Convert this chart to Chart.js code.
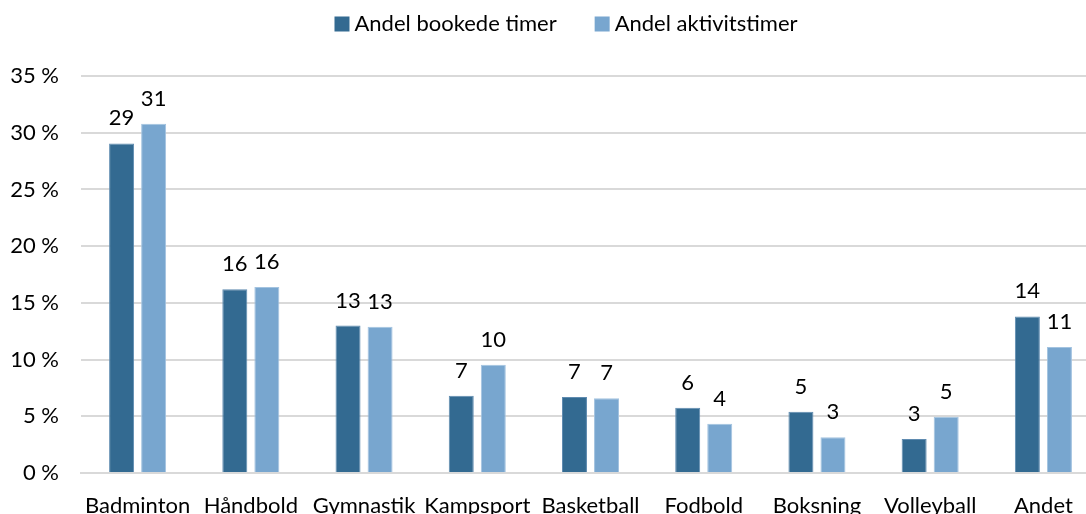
<!DOCTYPE html>
<html>
<head>
<meta charset="utf-8">
<script src="https://cdn.jsdelivr.net/npm/chart.js@4.4.1/dist/chart.umd.min.js"></script>
<style>
    html, body { margin: 0; padding: 0; background: #fff; }
    #wrap { width: 1086px; height: 514px; overflow: hidden; }
</style>
</head>
<body>
<div id="wrap"><canvas id="sportChart" width="1100" height="514"></canvas></div>
<script>
// Fordeling af bookede timer / aktivitetstimer pr. idræt (%)
const categories = ['Badminton', 'Håndbold', 'Gymnastik', 'Kampsport', 'Basketball', 'Fodbold', 'Boksning', 'Volleyball', 'Andet'];
const bookedShare = [29.05, 16.2, 13.0, 6.8, 6.7, 5.75, 5.4, 3.0, 13.8];
const activityShare = [30.8, 16.4, 12.9, 9.55, 6.6, 4.35, 3.15, 4.95, 11.1];
const yTicks = [0, 5, 10, 15, 20, 25, 30, 35];

const FONT = 'Lato';
const FONT_SIZE = 22;

// tal over søjlerne (afrundet)
const valueLabels = {
    id: 'valueLabels',
    afterDatasetsDraw(chart) {
        const ctx = chart.ctx;
        ctx.save();
        ctx.font = `${FONT_SIZE}px ${FONT}`;
        ctx.fillStyle = '#000';
        ctx.textAlign = 'center';
        ctx.textBaseline = 'alphabetic';
        chart.data.datasets.forEach((ds, i) => {
            chart.getDatasetMeta(i).data.forEach((bar, j) => {
                ctx.fillText(Math.round(ds.data[j]), bar.x, bar.y - 18);
            });
        });
        ctx.restore();
    }
};

// forklaring øverst, som i Excel (lille afstand mellem kasse og tekst)
const topLegend = {
    id: 'topLegend',
    afterDraw(chart) {
        const ctx = chart.ctx;
        const box = 15, boxGap = 5, itemGap = 38, centerX = 566, midY = 24;
        ctx.save();
        ctx.font = `${FONT_SIZE}px ${FONT}`;
        const items = chart.data.datasets.map(ds => ({
            text: ds.label,
            color: ds.backgroundColor,
            width: box + boxGap + ctx.measureText(ds.label).width
        }));
        const total = items.reduce((s, it) => s + it.width, 0) + itemGap * (items.length - 1);
        let x = centerX - total / 2;
        ctx.textAlign = 'left';
        ctx.textBaseline = 'middle';
        items.forEach(it => {
            ctx.fillStyle = it.color;
            ctx.fillRect(x, midY - box / 2, box, box);
            ctx.fillStyle = '#000';
            ctx.fillText(it.text, x + box + boxGap, midY);
            x += it.width + itemGap;
        });
        ctx.restore();
    }
};

const ctx = document.getElementById('sportChart');
new Chart(ctx, {
    type: 'bar',
    data: {
        labels: categories,
        datasets: [
            {
                label: 'Andel bookede timer',
                data: bookedShare,
                backgroundColor: '#336a91',
                borderColor: '#5f8bb0',
                borderWidth: 1
            },
            {
                label: 'Andel aktivitstimer',
                data: activityShare,
                backgroundColor: '#78a6cf',
                borderColor: '#a3c3e0',
                borderWidth: 1
            }
        ]
    },
    options: {
        responsive: false,
        animation: false,
        devicePixelRatio: 1,
        layout: {
            padding: { top: 76, left: 0, right: 0, bottom: 0 }
        },
        datasets: {
            bar: {
                categoryPercentage: 0.566,
                barPercentage: 0.78
            }
        },
        scales: {
            x: {
                grid: { display: false, drawTicks: false },
                border: { display: true, color: '#d9d9d9', width: 2 },
                ticks: {
                    color: '#000',
                    padding: 20,
                    maxRotation: 0,
                    autoSkip: false,
                    font: { family: FONT, size: FONT_SIZE }
                },
                afterFit: scale => { scale.height = 41; }
            },
            y: {
                min: 0,
                max: 35,
                afterBuildTicks: scale => {
                    scale.ticks = yTicks.map(v => ({ value: v }));
                },
                grid: { color: '#d9d9d9', lineWidth: 2, drawTicks: false },
                border: { display: false },
                ticks: {
                    color: '#000',
                    padding: 22,
                    font: { family: FONT, size: FONT_SIZE },
                    callback: function(value) {
                        return value + ' %';
                    }
                },
                afterFit: scale => { scale.width = 81; }
            }
        },
        plugins: {
            legend: { display: false },
            tooltip: { enabled: false }
        }
    },
    plugins: [valueLabels, topLegend]
});
</script>
</body>
</html>
